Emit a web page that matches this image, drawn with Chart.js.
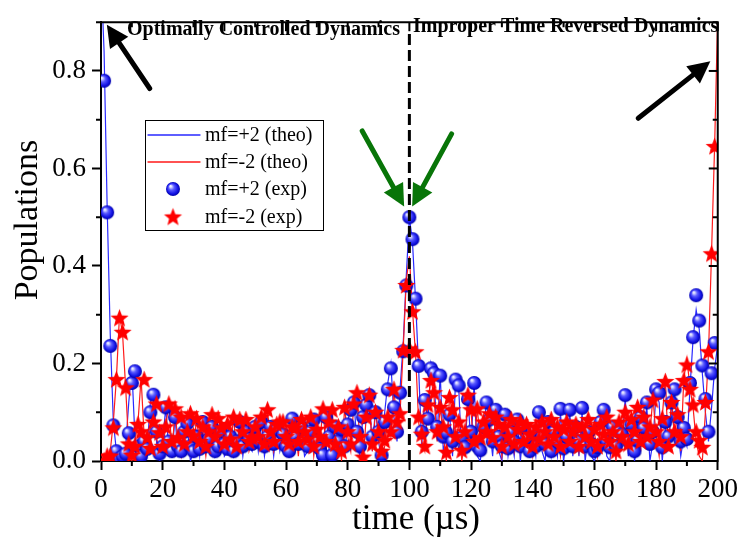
<!DOCTYPE html>
<html>
<head>
<meta charset="utf-8">
<script src="https://cdn.jsdelivr.net/npm/chart.js@4.4.0/dist/chart.umd.min.js"></script>
<style>
  html, body { margin: 0; padding: 0; background: #fff; }
  #wrap { width: 742px; height: 538px; }
</style>
</head>
<body>
<div id="wrap"><canvas id="myChart" width="742" height="538"></canvas></div>
<script>
// theory curves, one value per microsecond, t = 0..200
const theoStep = 1;
const theoPlus = [
  1.0, 0.84, 0.52, 0.26, 0.08, 0.02, 0.0, 0.01, 0.03, 0.12,
  0.19, 0.05, 0.0, 0.05, 0.02, 0.03, 0.12, 0.14, 0.04, 0.0,
  0.04, 0.11, 0.02, 0.01, 0.09, 0.01, 0.02, 0.08, 0.07, 0.0,
  0.02, 0.06, 0.01, 0.08, 0.02, 0.03, 0.07, 0.01, 0.03, 0.07,
  0.01, 0.02, 0.06, 0.01, 0.03, 0.08, 0.01, 0.06, 0.03, 0.02,
  0.07, 0.02, 0.08, 0.01, 0.05, 0.07, 0.01, 0.07, 0.02, 0.05,
  0.01, 0.01, 0.09, 0.02, 0.04, 0.07, 0.01, 0.02, 0.06, 0.09,
  0.01, 0.0, 0.01, 0.1, 0.02, 0.0, 0.08, 0.02, 0.07, 0.01,
  0.08, 0.11, 0.13, 0.03, 0.01, 0.1, 0.12, 0.14, 0.02, 0.11,
  0.04, 0.0, 0.1, 0.16, 0.2, 0.09, 0.04, 0.15, 0.24, 0.38,
  0.5, 0.45, 0.33, 0.19, 0.03, 0.13, 0.08, 0.2, 0.17, 0.05,
  0.18, 0.02, 0.05, 0.1, 0.01, 0.17, 0.15, 0.01, 0.02, 0.13,
  0.03, 0.16, 0.01, 0.0, 0.06, 0.12, 0.07, 0.01, 0.1, 0.02,
  0.0, 0.09, 0.01, 0.05, 0.01, 0.08, 0.0, 0.07, 0.02, 0.01,
  0.05, 0.01, 0.1, 0.02, 0.0, 0.07, 0.01, 0.05, 0.01, 0.1,
  0.0, 0.04, 0.1, 0.01, 0.06, 0.01, 0.1, 0.0, 0.05, 0.01,
  0.0, 0.02, 0.07, 0.1, 0.01, 0.0, 0.06, 0.01, 0.05, 0.04,
  0.13, 0.01, 0.07, 0.0, 0.03, 0.08, 0.06, 0.11, 0.0, 0.04,
  0.14, 0.12, 0.0, 0.07, 0.03, 0.11, 0.14, 0.07, 0.01, 0.05,
  0.03, 0.15, 0.25, 0.31, 0.27, 0.18, 0.1, 0.04, 0.11, 0.19, 0.24
];
const theoMinus = [
  0.0, 0.01, 0.01, 0.02, 0.08, 0.17, 0.3, 0.26, 0.15, 0.03,
  0.0, 0.04, 0.08, 0.17, 0.05, 0.02, 0.07, 0.12, 0.05, 0.01,
  0.03, 0.07, 0.12, 0.02, 0.1, 0.04, 0.01, 0.06, 0.1, 0.05,
  0.02, 0.09, 0.03, 0.06, 0.01, 0.06, 0.1, 0.04, 0.09, 0.06,
  0.02, 0.08, 0.03, 0.09, 0.01, 0.08, 0.05, 0.09, 0.02, 0.04,
  0.07, 0.03, 0.09, 0.02, 0.1, 0.05, 0.02, 0.08, 0.08, 0.03,
  0.05, 0.02, 0.07, 0.07, 0.01, 0.09, 0.05, 0.03, 0.09, 0.01,
  0.06, 0.04, 0.11, 0.02, 0.08, 0.1, 0.01, 0.07, 0.0, 0.11,
  0.05, 0.02, 0.12, 0.14, 0.03, 0.0, 0.09, 0.13, 0.02, 0.1,
  0.06, 0.01, 0.03, 0.09, 0.05, 0.15, 0.06, 0.1, 0.23, 0.37,
  0.42, 0.31, 0.22, 0.08, 0.04, 0.02, 0.12, 0.17, 0.13, 0.04,
  0.11, 0.05, 0.0, 0.13, 0.1, 0.03, 0.08, 0.0, 0.04, 0.14,
  0.1, 0.02, 0.11, 0.04, 0.07, 0.05, 0.1, 0.03, 0.09, 0.07,
  0.01, 0.07, 0.04, 0.09, 0.02, 0.06, 0.08, 0.03, 0.08, 0.05,
  0.01, 0.07, 0.03, 0.08, 0.05, 0.02, 0.09, 0.04, 0.07, 0.01,
  0.06, 0.08, 0.03, 0.05, 0.08, 0.02, 0.07, 0.04, 0.09, 0.03,
  0.06, 0.01, 0.08, 0.05, 0.1, 0.03, 0.06, 0.0, 0.08, 0.04,
  0.11, 0.02, 0.09, 0.05, 0.12, 0.02, 0.1, 0.04, 0.06, 0.13,
  0.05, 0.01, 0.09, 0.17, 0.02, 0.13, 0.05, 0.1, 0.02, 0.17,
  0.21, 0.15, 0.11, 0.04, 0.01, 0.0, 0.1, 0.22, 0.43, 0.65, 0.92
];

// measured populations, t = 1..199 us
const expStart = 1;
const expPlus = [
  0.78, 0.51, 0.236, 0.073, 0.02, 0.005, 0.01, 0.015, 0.057, 0.16,
  0.184, 0.03, 0.01, 0.04, 0.025, 0.1, 0.136, 0.06, 0.015, 0.03,
  0.11, 0.04, 0.02, 0.09, 0.03, 0.02, 0.06, 0.077, 0.03, 0.02,
  0.05, 0.025, 0.08, 0.03, 0.045, 0.07, 0.02, 0.03, 0.06, 0.035,
  0.025, 0.05, 0.02, 0.04, 0.08, 0.03, 0.06, 0.045, 0.035, 0.07,
  0.04, 0.08, 0.03, 0.05, 0.07, 0.035, 0.065, 0.04, 0.055, 0.03,
  0.02, 0.087, 0.05, 0.035, 0.07, 0.04, 0.03, 0.06, 0.085, 0.04,
  0.025, 0.012, 0.09, 0.05, 0.012, 0.07, 0.04, 0.065, 0.03, 0.075,
  0.105, 0.12, 0.06, 0.03, 0.09, 0.115, 0.135, 0.05, 0.1, 0.06,
  0.012, 0.08, 0.147, 0.19, 0.11, 0.06, 0.14, 0.225, 0.36, 0.5,
  0.455, 0.333, 0.195, 0.06, 0.125, 0.087, 0.19, 0.18, 0.07, 0.175,
  0.05, 0.058, 0.095, 0.04, 0.167, 0.155, 0.048, 0.028, 0.127, 0.06,
  0.16, 0.03, 0.022, 0.07, 0.12, 0.085, 0.04, 0.105, 0.05, 0.03,
  0.095, 0.026, 0.06, 0.04, 0.085, 0.03, 0.07, 0.045, 0.02, 0.06,
  0.03, 0.1, 0.05, 0.035, 0.08, 0.02, 0.06, 0.04, 0.107, 0.026,
  0.05, 0.105, 0.03, 0.07, 0.04, 0.109, 0.03, 0.06, 0.035, 0.02,
  0.028, 0.08, 0.105, 0.04, 0.028, 0.07, 0.03, 0.06, 0.055, 0.135,
  0.04, 0.075, 0.02, 0.042, 0.09, 0.068, 0.12, 0.035, 0.06, 0.147,
  0.14, 0.028, 0.08, 0.05, 0.12, 0.147, 0.09, 0.04, 0.068, 0.045,
  0.16, 0.254, 0.34, 0.288, 0.196, 0.127, 0.06, 0.18, 0.242
];
const expMinus = [
  0.0, 0.01, 0.01, 0.068, 0.167, 0.293, 0.264, 0.15, 0.035, 0.012,
  0.03, 0.075, 0.06, 0.167, 0.048, 0.026, 0.08, 0.117, 0.058, 0.03,
  0.07, 0.117, 0.04, 0.107, 0.048, 0.09, 0.035, 0.06, 0.097, 0.052,
  0.087, 0.04, 0.07, 0.03, 0.06, 0.095, 0.05, 0.087, 0.068, 0.035,
  0.075, 0.045, 0.09, 0.03, 0.085, 0.06, 0.085, 0.04, 0.048, 0.07,
  0.05, 0.09, 0.035, 0.105, 0.06, 0.04, 0.075, 0.08, 0.08, 0.05,
  0.035, 0.07, 0.068, 0.04, 0.085, 0.06, 0.045, 0.09, 0.03, 0.065,
  0.05, 0.107, 0.04, 0.08, 0.105, 0.035, 0.07, 0.02, 0.11, 0.06,
  0.035, 0.117, 0.14, 0.05, 0.008, 0.09, 0.135, 0.035, 0.1, 0.06,
  0.02, 0.042, 0.09, 0.06, 0.147, 0.08, 0.097, 0.227, 0.36, 0.23,
  0.306, 0.224, 0.09, 0.055, 0.03, 0.115, 0.165, 0.14, 0.06, 0.11,
  0.07, 0.018, 0.13, 0.105, 0.05, 0.08, 0.022, 0.06, 0.135, 0.105,
  0.04, 0.107, 0.048, 0.08, 0.06, 0.097, 0.048, 0.09, 0.075, 0.03,
  0.07, 0.05, 0.085, 0.035, 0.065, 0.08, 0.04, 0.075, 0.055, 0.03,
  0.07, 0.045, 0.08, 0.06, 0.035, 0.085, 0.05, 0.07, 0.03, 0.065,
  0.08, 0.04, 0.06, 0.075, 0.03, 0.07, 0.05, 0.085, 0.04, 0.065,
  0.03, 0.075, 0.055, 0.09, 0.04, 0.06, 0.02, 0.08, 0.05, 0.1,
  0.035, 0.085, 0.06, 0.11, 0.04, 0.09, 0.05, 0.07, 0.125, 0.06,
  0.04, 0.087, 0.163, 0.03, 0.12, 0.06, 0.095, 0.05, 0.165, 0.197,
  0.147, 0.115, 0.06, 0.042, 0.028, 0.12, 0.224, 0.425, 0.645
];

const xTicks = [0, 20, 40, 60, 80, 100, 120, 140, 160, 180, 200];
const yTicks = [0, 0.2, 0.4, 0.6, 0.8];
const legendLabels = ['mf=+2 (theo)', 'mf=-2 (theo)', 'mf=+2 (exp)', 'mf=-2 (exp)'];

const SERIF = "'Liberation Serif', 'Times New Roman', serif";

function toPoints(vals, t0, step) {
  return vals.map((v, i) => ({ x: t0 + i * step, y: v }));
}

// little shaded ball for the mf=+2 measurements
function makeSphere(r) {
  const c = document.createElement('canvas');
  c.width = c.height = Math.ceil(2 * r + 2);
  const g = c.getContext('2d');
  const cx = c.width / 2, cy = c.height / 2;
  const grd = g.createRadialGradient(cx - r * 0.35, cy - r * 0.4, r * 0.1, cx, cy, r);
  grd.addColorStop(0, '#eef0ff');
  grd.addColorStop(0.35, '#5a5aff');
  grd.addColorStop(0.75, '#1414e6');
  grd.addColorStop(1, '#0000a8');
  g.fillStyle = grd;
  g.beginPath();
  g.arc(cx, cy, r, 0, Math.PI * 2);
  g.fill();
  return c;
}

// filled five point star for mf=-2
function makeStar(ro, ri) {
  const c = document.createElement('canvas');
  c.width = c.height = Math.ceil(2 * ro + 2);
  const g = c.getContext('2d');
  const cx = c.width / 2, cy = c.height / 2 + 0.5;
  g.fillStyle = '#ff0000';
  g.beginPath();
  for (let i = 0; i < 10; i++) {
    const r = i % 2 === 0 ? ro : ri;
    const a = -Math.PI / 2 + i * Math.PI / 5;
    g.lineTo(cx + r * Math.cos(a), cy + r * Math.sin(a));
  }
  g.closePath();
  g.fill();
  return c;
}

const sphere = makeSphere(7);
const star = makeStar(9.5, 4.1);

function arrow(ctx, x0, y0, x1, y1, color, w, headLen, headW) {
  const ang = Math.atan2(y1 - y0, x1 - x0);
  const bx = x1 - headLen * Math.cos(ang), by = y1 - headLen * Math.sin(ang);
  ctx.strokeStyle = color;
  ctx.lineWidth = w;
  ctx.lineCap = 'round';
  ctx.beginPath();
  ctx.moveTo(x0, y0);
  ctx.lineTo(bx, by);
  ctx.stroke();
  ctx.fillStyle = color;
  ctx.beginPath();
  ctx.moveTo(x1, y1);
  ctx.lineTo(bx + headW / 2 * Math.sin(ang), by - headW / 2 * Math.cos(ang));
  ctx.lineTo(bx - headW / 2 * Math.sin(ang), by + headW / 2 * Math.cos(ang));
  ctx.closePath();
  ctx.fill();
}

// frame, minor ticks, dashed marker, arrows, notes and the legend box
const decor = {
  id: 'decor',
  afterDraw(chart) {
    const { ctx, chartArea: a, scales: { x, y } } = chart;
    ctx.save();

    // top and right frame
    ctx.strokeStyle = '#000';
    ctx.lineWidth = 2;
    ctx.beginPath();
    ctx.moveTo(a.left - 1, a.top);
    ctx.lineTo(a.right, a.top);
    ctx.lineTo(a.right, a.bottom + 1);
    ctx.stroke();

    // ticks: outward on bottom/left, inward on top/right
    for (let v = 0; v <= 200; v += 10) {
      const px = x.getPixelForValue(v);
      const major = v % 20 === 0;
      ctx.beginPath();
      if (!major) { ctx.moveTo(px, a.bottom); ctx.lineTo(px, a.bottom + 5); }
      ctx.moveTo(px, a.top); ctx.lineTo(px, a.top + (major ? 9 : 5));
      ctx.stroke();
    }
    for (let k = 0; k <= 9; k++) {
      const py = y.getPixelForValue(k / 10);
      const major = k % 2 === 0;
      ctx.beginPath();
      if (!major) { ctx.moveTo(a.left, py); ctx.lineTo(a.left - 5, py); }
      ctx.moveTo(a.right, py); ctx.lineTo(a.right - (major ? 9 : 5), py);
      ctx.stroke();
    }

    // dashed line at the time reversal point
    const xm = x.getPixelForValue(100);
    ctx.setLineDash([11, 5]);
    ctx.lineWidth = 3;
    ctx.beginPath();
    ctx.moveTo(xm, a.bottom);
    ctx.lineTo(xm, a.top + 8);
    ctx.stroke();
    ctx.setLineDash([]);

    // arrows (given in data units)
    const P = (t, v) => [x.getPixelForValue(t), y.getPixelForValue(v)];
    const ar = (t0, v0, t1, v1, col) => {
      const p0 = P(t0, v0), p1 = P(t1, v1);
      arrow(ctx, p0[0], p0[1], p1[0], p1[1], col, 5, 22, 22);
    };
    ar(15.8, 0.764, 1.9, 0.895, '#000');
    ar(174.2, 0.703, 197.6, 0.82, '#000');
    ar(84.7, 0.677, 98.3, 0.522, '#087508');
    ar(113.7, 0.671, 100.9, 0.522, '#087508');

    // notes
    ctx.fillStyle = '#000';
    ctx.font = 'bold 20px ' + SERIF;
    ctx.textBaseline = 'alphabetic';
    ctx.textAlign = 'left';
    ctx.fillText('Optimally Controlled Dynamics', 127, 35);
    ctx.fillText('Improper Time Reversed Dynamics', 413, 32);

    // axis titles
    ctx.font = '35px ' + SERIF;
    ctx.textAlign = 'center';
    ctx.textBaseline = 'middle';
    ctx.fillText('time (\u00b5s)', 416, 520);
    ctx.save();
    ctx.translate(28, 220);
    ctx.rotate(-Math.PI / 2);
    ctx.font = '34px ' + SERIF;
    ctx.fillText('Populations', 0, 0);
    ctx.restore();

    // legend box
    const lx = 145, ly = 120, lw = 178, lh = 110;
    ctx.fillStyle = '#fff';
    ctx.fillRect(lx, ly, lw, lh);
    ctx.strokeStyle = '#000';
    ctx.lineWidth = 1;
    ctx.strokeRect(lx + 0.5, ly + 0.5, lw, lh);
    const rows = [135, 162, 189, 217];
    ctx.lineWidth = 1.3;
    ctx.strokeStyle = '#2a2aff';
    ctx.beginPath(); ctx.moveTo(148, rows[0]); ctx.lineTo(200, rows[0]); ctx.stroke();
    ctx.strokeStyle = '#ff1a1a';
    ctx.beginPath(); ctx.moveTo(148, rows[1]); ctx.lineTo(200, rows[1]); ctx.stroke();
    ctx.drawImage(sphere, 173 - sphere.width / 2, rows[2] - sphere.height / 2);
    ctx.drawImage(star, 173 - star.width / 2, rows[3] - star.height / 2);
    ctx.fillStyle = '#000';
    ctx.font = '20px ' + SERIF;
    ctx.textAlign = 'left';
    ctx.textBaseline = 'middle';
    legendLabels.forEach((s, i) => ctx.fillText(s, 205, rows[i] + 1));

    ctx.restore();
  }
};

const tickFont = { family: SERIF, size: 27 };

new Chart(document.getElementById('myChart'), {
  type: 'line',
  data: {
    datasets: [
      {
        label: legendLabels[3],
        data: toPoints(expMinus, expStart, 1),
        showLine: false,
        pointStyle: star,
        order: 0
      },
      {
        label: legendLabels[2],
        data: toPoints(expPlus, expStart, 1),
        showLine: false,
        pointStyle: sphere,
        order: 1
      },
      {
        label: legendLabels[1],
        data: toPoints(theoMinus, 0, theoStep),
        borderColor: '#ff1a1a',
        borderWidth: 1.2,
        pointRadius: 0,
        tension: 0,
        order: 2
      },
      {
        label: legendLabels[0],
        data: toPoints(theoPlus, 0, theoStep),
        borderColor: '#2a2aff',
        borderWidth: 1.2,
        pointRadius: 0,
        tension: 0,
        order: 3
      }
    ]
  },
  options: {
    responsive: false,
    animation: false,
    devicePixelRatio: 1,
    layout: { padding: { top: 6, right: 22, left: 0, bottom: 0 } },
    plugins: {
      legend: { display: false },
      tooltip: { enabled: false }
    },
    scales: {
      x: {
        type: 'linear',
        min: 0,
        max: 200,
        afterBuildTicks: s => { s.ticks = xTicks.map(v => ({ value: v })); },
        afterFit: s => { s.height = 77; },
        ticks: { font: tickFont, color: '#000', padding: 4, maxRotation: 0, autoSkip: false },
        grid: { drawOnChartArea: false, tickLength: 9, tickWidth: 2, color: '#000' },
        border: { width: 2, color: '#000' }
      },
      y: {
        min: 0,
        max: 0.9,
        afterBuildTicks: s => { s.ticks = yTicks.map(v => ({ value: v })); },
        afterFit: s => { s.width = 101; },
        ticks: { font: tickFont, color: '#000', padding: 6, callback: v => v.toFixed(1) },
        grid: { drawOnChartArea: false, tickLength: 9, tickWidth: 2, color: '#000' },
        border: { width: 2, color: '#000' }
      }
    }
  },
  plugins: [decor]
});
</script>
</body>
</html>
